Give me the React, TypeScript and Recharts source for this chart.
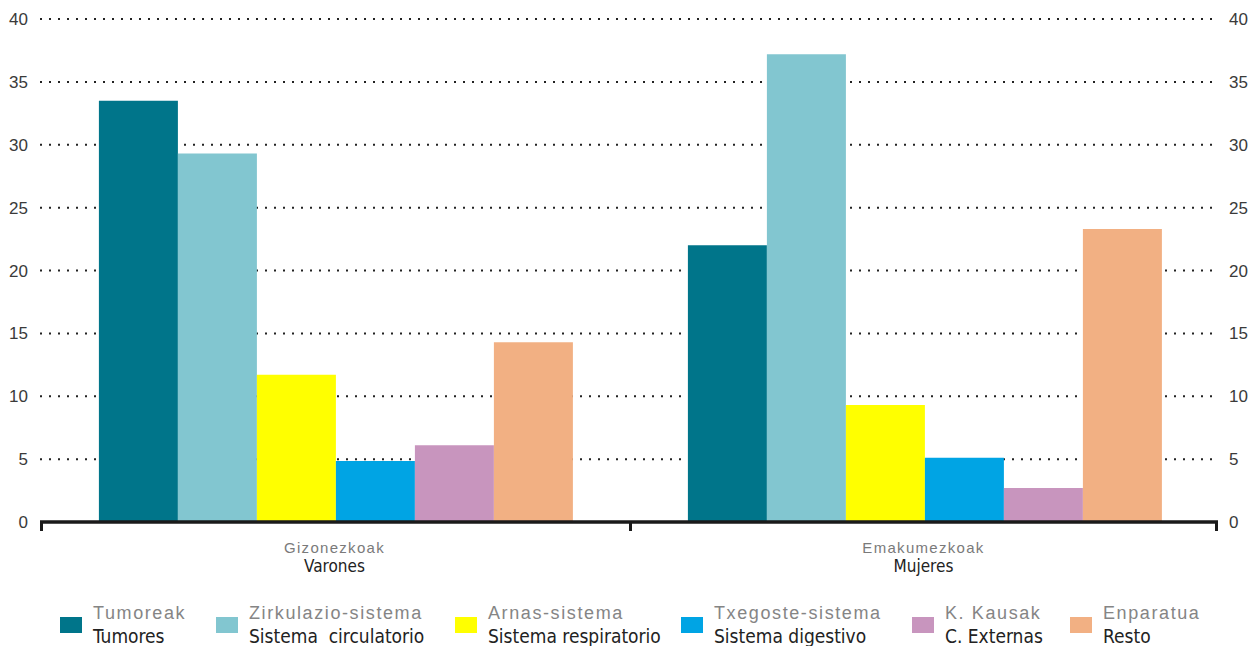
import React from 'react';
import { ComposedChart, Bar, Line, XAxis, YAxis, CartesianGrid } from 'recharts';

const groupsEu = ['Gizonezkoak', 'Emakumezkoak'];
const groupsEs = ['Varones', 'Mujeres'];

const causesEu = ['Tumoreak', 'Zirkulazio-sistema', 'Arnas-sistema', 'Txegoste-sistema', 'K. Kausak', 'Enparatua'];
const causesEs = ['Tumores', 'Sistema  circulatorio', 'Sistema respiratorio', 'Sistema digestivo', 'C. Externas', 'Resto'];
const causeKeys = ['tumores', 'circulatorio', 'respiratorio', 'digestivo', 'externas', 'resto'];
const causeColors = ['#00758A', '#82C6D0', '#FFFF00', '#00A4E4', '#C895BE', '#F2B083'];

const varones = [33.5, 29.3, 11.7, 4.85, 6.1, 14.3];
const mujeres = [22.0, 37.2, 9.3, 5.1, 2.7, 23.3];

const yTicks = [0, 5, 10, 15, 20, 25, 30, 35, 40];

// legend left edges (layout only)
const legendLeft = [60, 216, 455, 681, 912, 1070];

const data = groupsEu.map((g, gi) => {
  const row: { [k: string]: string | number } = { group: g };
  const vals = gi === 0 ? varones : mujeres;
  causeKeys.forEach((k, i) => {
    row[k] = vals[i];
  });
  return row;
});

const FONT = '"Liberation Sans", Arial, sans-serif';
const NARROW = '"Liberation Sans Narrow", "Arial Narrow", "DejaVu Sans Condensed", sans-serif';

const GroupTick = (props: any) => {
  const { x, y, payload, index } = props;
  const half = payload && payload.offset ? payload.offset : 294.5;
  return (
    <g>
      <line x1={x - half + 1.5} x2={x - half + 1.5} y1={y} y2={y + 9} stroke="#1a1a1a" strokeWidth={3} />
      {index === groupsEu.length - 1 && (
        <line x1={x + half - 1.5} x2={x + half - 1.5} y1={y} y2={y + 9} stroke="#1a1a1a" strokeWidth={3} />
      )}
      <text x={x} y={y + 31} textAnchor="middle" fontFamily={FONT} fontSize={15} letterSpacing={1.3} fill="#7a7a7a">
        {payload.value}
      </text>
      <text x={x} y={y + 50} textAnchor="middle" fontFamily={NARROW} fontSize={17} fill="#222">
        {groupsEs[index]}
      </text>
    </g>
  );
};

const App: React.FC = () => {
  return (
    <div style={{ position: 'absolute', left: 0, top: 0, width: 1249, height: 646, background: '#fff' }}>
      <ComposedChart
        width={1249}
        height={646}
        data={data}
        margin={{ top: 19, right: 0, left: 0, bottom: 0 }}
        barCategoryGap="10%"
        barGap={0}
      >
        <CartesianGrid yAxisId="left" vertical={false} stroke="#222" strokeWidth={2} strokeDasharray="2 7" />
        <XAxis
          dataKey="group"
          height={124}
          axisLine={{ stroke: '#1a1a1a', strokeWidth: 3.5 }}
          tickLine={false}
          tickSize={0}
          tickMargin={0}
          tick={<GroupTick />}
          interval={0}
        />
        <YAxis
          yAxisId="left"
          orientation="left"
          width={40}
          domain={[0, 40]}
          ticks={yTicks}
          axisLine={false}
          tickLine={false}
          tickSize={0}
          tickMargin={12}
          tick={{ fill: '#3a3a3a', fontSize: 17, fontFamily: FONT }}
        />
        <YAxis
          yAxisId="right"
          orientation="right"
          width={31}
          domain={[0, 40]}
          ticks={yTicks}
          axisLine={false}
          tickLine={false}
          tickSize={0}
          tickMargin={11}
          tick={{ fill: '#3a3a3a', fontSize: 17, fontFamily: FONT }}
        />
        {causeKeys.map((k, i) => (
          <Bar key={k} yAxisId="left" dataKey={k} fill={causeColors[i]} isAnimationActive={false} />
        ))}
        {/* invisible series so the right axis gets drawn */}
        <Line
          yAxisId="right"
          dataKey={causeKeys[0]}
          stroke="none"
          dot={false}
          activeDot={false}
          legendType="none"
          isAnimationActive={false}
        />
      </ComposedChart>
      {causeKeys.map((k, i) => (
        <div key={k} style={{ position: 'absolute', left: legendLeft[i], top: 602, height: 44 }}>
          <div style={{ position: 'absolute', left: 0, top: 15, width: 22, height: 16, background: causeColors[i] }} />
          <div
            style={{
              position: 'absolute',
              left: 33,
              top: 0,
              whiteSpace: 'pre',
              fontFamily: FONT,
              fontSize: 18,
              letterSpacing: 1.6,
              color: '#858585',
              lineHeight: '22px',
            }}
          >
            {causesEu[i]}
          </div>
          <div
            style={{
              position: 'absolute',
              left: 33,
              top: 22,
              whiteSpace: 'pre',
              fontFamily: NARROW,
              fontSize: 19,
              color: '#222',
              lineHeight: '24px',
            }}
          >
            {causesEs[i]}
          </div>
        </div>
      ))}
    </div>
  );
};

export default App;
